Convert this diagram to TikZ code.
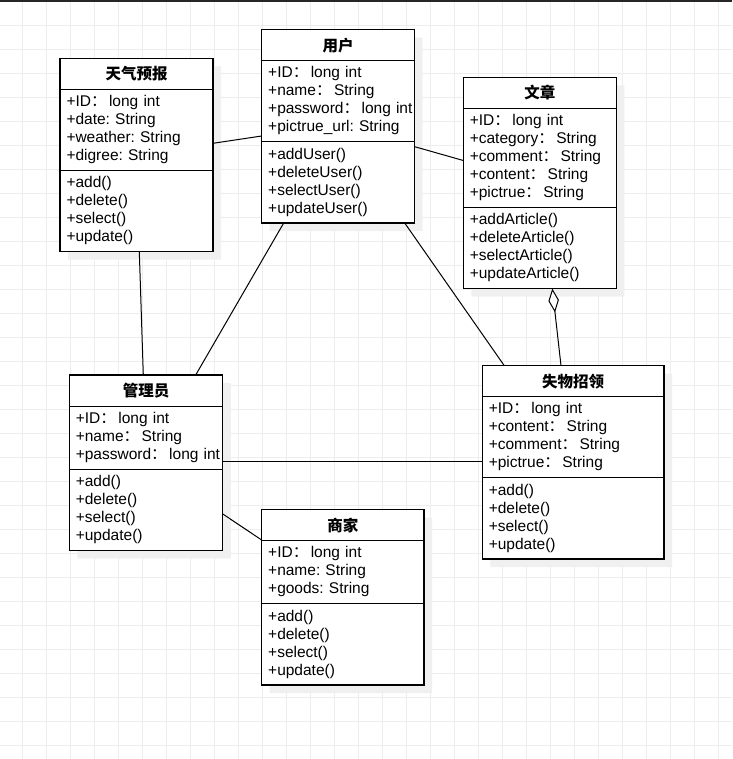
\documentclass[tikz,border=0pt]{standalone}
\usepackage{fontspec}
\setmainfont{Liberation Sans}
\newfontfamily\cjk{Noto Sans CJK SC}
\usetikzlibrary{shapes.multipart,shadows,arrows.meta}
\frenchspacing

\newcommand{\fc}{{\cjk ：}\kern2.5pt\ignorespaces}
\newcommand{\classname}[1]{{\centering\bfseries\cjk #1\rule[-4.9pt]{0pt}{22pt}\par}}
\newcommand{\members}[1]{{\rightskip=-14pt plus 1fil\relax\strut #1\strut\par}}

\tikzset{
	umlclass/.style={rectangle split, rectangle split parts=3, draw=black, line width=1.1pt,
		fill=white, anchor=north west, align=left, inner xsep=6.5pt, inner ysep=4pt,
		outer sep=0pt, font=\fontsize{15.5}{18}\selectfont\frenchspacing,
		drop shadow={shadow xshift=8pt, shadow yshift=-8pt, fill=black!6, draw=none, opacity=1}},
	assoc/.style={line width=1pt},
	gridline/.style={draw=black!7, line width=0.9pt}
}

\begin{document}
\begin{tikzpicture}[x=1pt,y=-1pt]
	\useasboundingbox (0,0) rectangle (732,759);
	\fill[white] (0,0) rectangle (732,759);
	\foreach \gx in {0,...,29} \draw[gridline] ({22.3+24*\gx},0) -- ++(0,759);
	\foreach \gy in {0,...,31} \draw[gridline] (0,{1.3+24*\gy}) -- ++(732,0);
	\fill[black!85] (0,0) rectangle (732,1.7);
	
	\node[umlclass, text width=140pt] (weather) at (60,58.3) {\classname{天气预报}
		\nodepart{two}\members{+ID\fc long int\\+date: String\\+weather: String\\+digree: String}
		\nodepart{three}\members{+add()\\+delete()\\+select()\\+update()}};
	\node[umlclass, text width=140pt] (user) at (261.7,29.7) {\classname{用户}
		\nodepart{two}\members{+ID\fc long int\\+name\fc String\\+password\fc long int\\+pictrue\_url: String}
		\nodepart{three}\members{+addUser()\\+deleteUser()\\+selectUser()\\+updateUser()}};
	\node[umlclass, text width=140pt] (article) at (463.3,77.3) {\classname{文章}
		\nodepart{two}\members{+ID\fc long int\\+category\fc String\\+comment\fc String\\+content\fc String\\+pictrue\fc String}
		\nodepart{three}\members{+addArticle()\\+deleteArticle()\\+selectArticle()\\+updateArticle()}};
	\node[umlclass, text width=140.5pt] (admin) at (69.3,375) {\classname{管理员}
		\nodepart{two}\members{+ID\fc long int\\+name\fc String\\+password\fc long int}
		\nodepart{three}\members{+add()\\+delete()\\+select()\\+update()}};
	\node[umlclass, text width=168.7pt] (lost) at (482.3,365.7) {\classname{失物招领}
		\nodepart{two}\members{+ID\fc long int\\+content\fc String\\+comment\fc String\\+pictrue\fc String}
		\nodepart{three}\members{+add()\\+delete()\\+select()\\+update()}};
	\node[umlclass, text width=149.3pt] (shop) at (261.7,509.7) {\classname{商家}
		\nodepart{two}\members{+ID\fc long int\\+name: String\\+goods: String}
		\nodepart{three}\members{+add()\\+delete()\\+select()\\+update()}};
	
	\draw[assoc] ([yshift=-85pt]weather.north east) -- ([yshift=-106.3pt]user.north west);
	\draw[assoc] ([xshift=79.3pt]weather.south west) -- ([xshift=74pt]admin.north west);
	\draw[assoc] ([xshift=22pt]user.south west) -- ([xshift=126.4pt]admin.north west);
	\draw[assoc] ([yshift=-117pt]user.north east) -- ([yshift=-83.2pt]article.north west);
	\draw[assoc] ([xshift=143pt]user.south west) -- ([xshift=22pt]lost.north west);
	\draw[assoc, {Diamond[length=24pt,width=10.5pt,fill=white]}-] ([xshift=89pt]article.south west) -- ([xshift=78.7pt]lost.north west);
	\draw[assoc] ([yshift=-86.3pt]admin.north east) -- ([yshift=-95.6pt]lost.north west);
	\draw[assoc] ([yshift=-139pt]admin.north east) -- ([yshift=-30.3pt]shop.north west);
\end{tikzpicture}
\end{document}
